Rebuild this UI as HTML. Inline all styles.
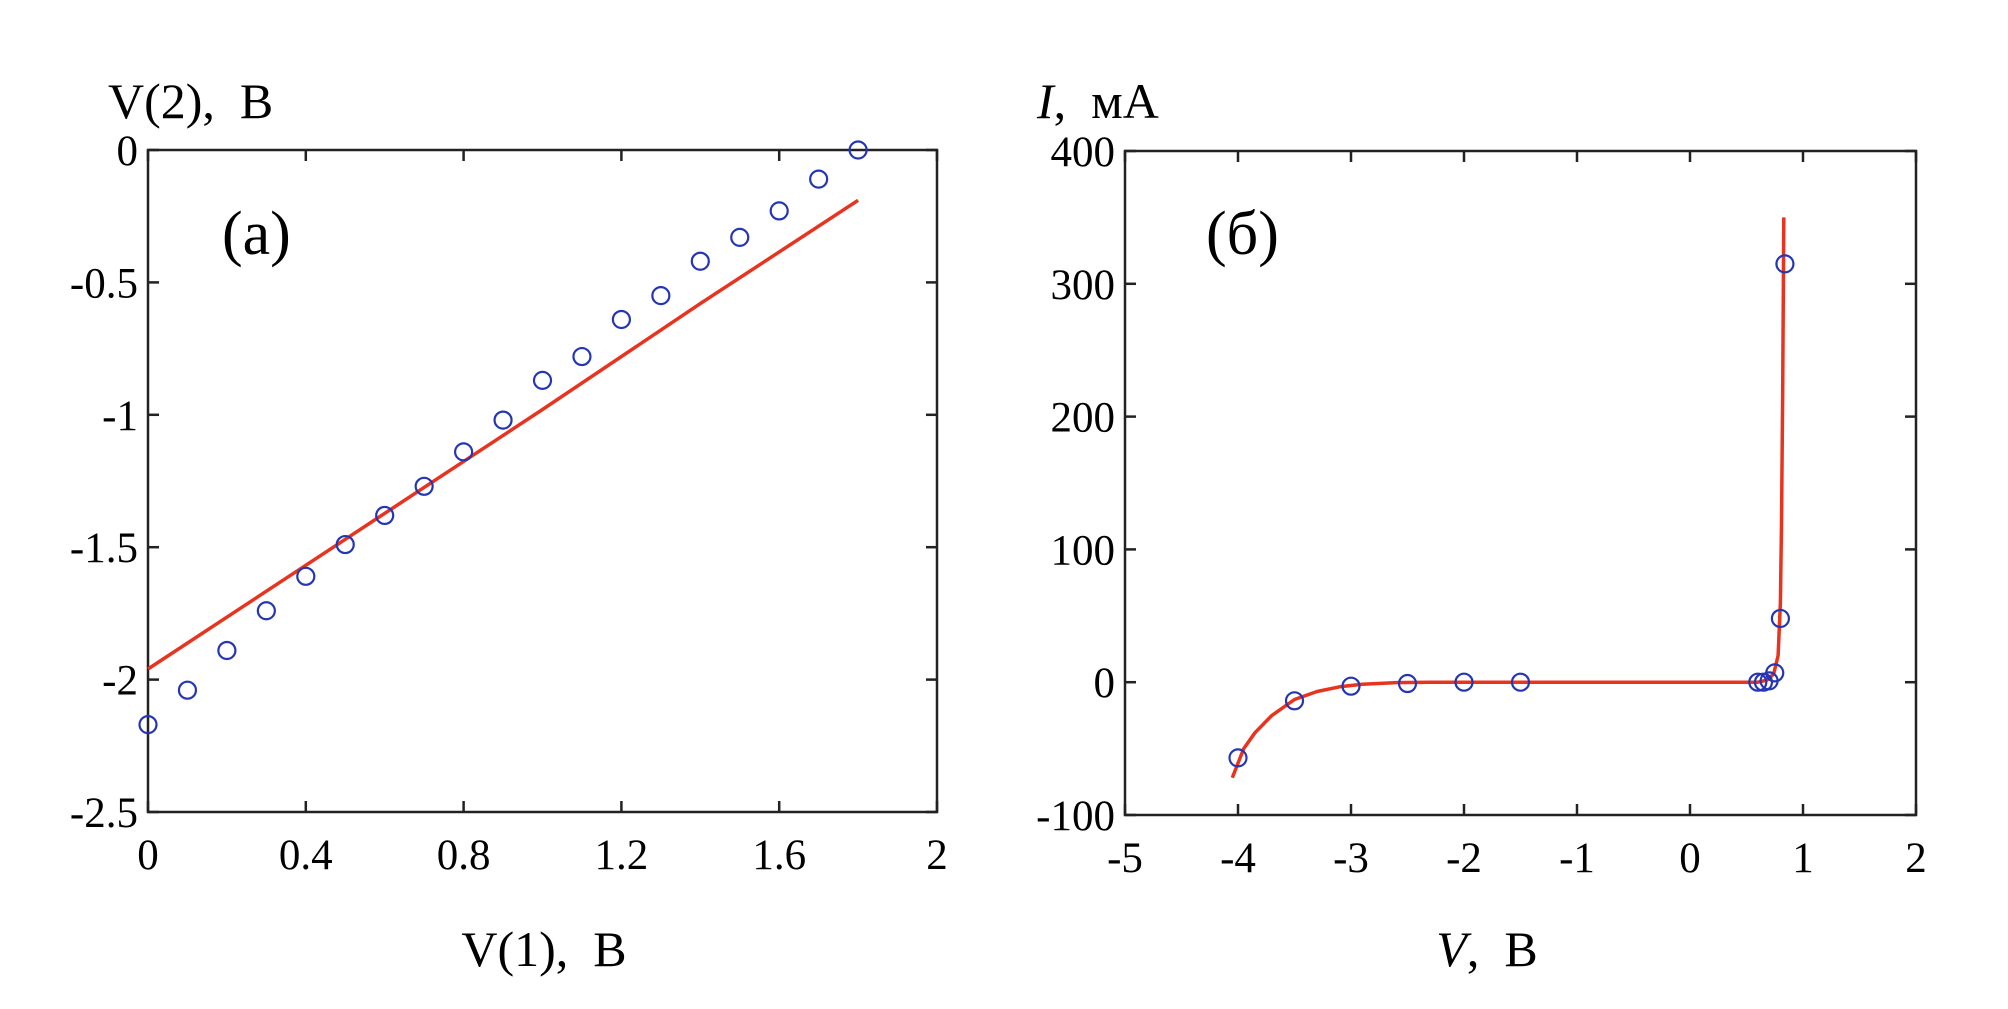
<!DOCTYPE html>
<html><head><meta charset="utf-8"><style>
body{margin:0;background:#fff}
svg text{font-family:"Liberation Serif",serif;fill:#000}
</style></head><body>
<svg id="s" width="2008" height="1004" viewBox="0 0 2008 1004" xmlns="http://www.w3.org/2000/svg">
<text x="108" y="118" font-size="50">V(2),&#160;&#160;В</text>
<text x="544" y="966" font-size="50" text-anchor="middle">V(1),&#160;&#160;В</text>
<text x="222" y="254" font-size="62">(а)</text>
<text x="1037" y="118" font-size="50"><tspan font-style="italic">I</tspan>,&#160;&#160;мА</text>
<text x="1487" y="966" font-size="50" text-anchor="middle"><tspan font-style="italic">V</tspan>,&#160;&#160;В</text>
<text x="1206" y="254" font-size="62">(б)</text>
<g id="L"></g>
<g id="R"></g>
</svg>
<script>
const leftXTicks=[0,0.4,0.8,1.2,1.6,2];
const leftXTickLabels=["0","0.4","0.8","1.2","1.6","2"];
const leftYTicks=[0,-0.5,-1,-1.5,-2,-2.5];
const leftYTickLabels=["0","-0.5","-1","-1.5","-2","-2.5"];
const leftPointsX=[0,0.1,0.2,0.3,0.4,0.5,0.6,0.7,0.8,0.9,1.0,1.1,1.2,1.3,1.4,1.5,1.6,1.7,1.8];
const leftPointsY=[-2.17,-2.04,-1.89,-1.74,-1.61,-1.49,-1.38,-1.27,-1.14,-1.02,-0.87,-0.78,-0.64,-0.55,-0.42,-0.33,-0.23,-0.11,0.0];
const leftLineX=[0,0.5,1.0,1.4,1.8];
const leftLineY=[-1.96,-1.47,-0.98,-0.58,-0.19];

const rightXTicks=[-5,-4,-3,-2,-1,0,1,2];
const rightXTickLabels=["-5","-4","-3","-2","-1","0","1","2"];
const rightYTicks=[-100,0,100,200,300,400];
const rightYTickLabels=["-100","0","100","200","300","400"];
const rightPointsX=[-4,-3.5,-3,-2.5,-2,-1.5,0.6,0.65,0.7,0.75,0.8,0.84];
const rightPointsY=[-57,-14,-3,-1,0,0,0,0,1,7,48,315];
const rightLineX=[-4.05,-3.95,-3.85,-3.7,-3.5,-3.3,-3.1,-2.9,-2.6,-2.3,0,0.6,0.68,0.74,0.78,0.8,0.81,0.82,0.83];
const rightLineY=[-72,-50,-38,-25,-13,-7,-3.5,-1.5,-0.3,0,0,0,1.5,6,20,60,120,220,350];

const NS="http://www.w3.org/2000/svg";
function mk(p,t,a){const e=document.createElementNS(NS,t);for(const k in a)e.setAttribute(k,a[k]);p.appendChild(e);return e;}
function panel(g,box,xd,yd,xt,xl,yt,yl,px,py,lx,ly,pre){
  const sx=v=>box.x0+(v-xd[0])/(xd[1]-xd[0])*(box.x1-box.x0);
  const sy=v=>box.y1-(v-yd[0])/(yd[1]-yd[0])*(box.y1-box.y0);
  const fr=mk(g,'rect',{x:box.x0,y:box.y0,width:box.x1-box.x0,height:box.y1-box.y0,fill:'none',stroke:'#222','stroke-width':2.5});
  
  
  xt.forEach((v,i)=>{const x=sx(v);
    mk(g,'line',{x1:x,x2:x,y1:box.y1,y2:box.y1-11,stroke:'#222','stroke-width':2.5});
    mk(g,'line',{x1:x,x2:x,y1:box.y0,y2:box.y0+11,stroke:'#222','stroke-width':2.5});
    const t=mk(g,'text',{x:x,y:box.y1+57,'font-size':43,'text-anchor':'middle'});t.textContent=xl[i];
    
    });
  yt.forEach((v,i)=>{const y=sy(v);
    mk(g,'line',{x1:box.x0,x2:box.x0+11,y1:y,y2:y,stroke:'#222','stroke-width':2.5});
    mk(g,'line',{x1:box.x1,x2:box.x1-11,y1:y,y2:y,stroke:'#222','stroke-width':2.5});
    const t=mk(g,'text',{x:box.x0-10,y:y+15,'font-size':43,'text-anchor':'end'});t.textContent=yl[i];
    
    });
  const d=lx.map((v,i)=>(i?'L':'M')+sx(v).toFixed(1)+' '+sy(ly[i]).toFixed(1)).join(' ');
  const p=mk(g,'path',{d:d,fill:'none',stroke:'#e8341f','stroke-width':3.5,'stroke-linejoin':'round'});
  
  
  px.forEach((v,i)=>{const c=mk(g,'circle',{cx:sx(v),cy:sy(py[i]),r:8.5,fill:'none',stroke:'#2436b4','stroke-width':2.2});
    
    });
}
panel(document.getElementById('L'),{x0:148,x1:937,y0:150,y1:812},[0,2],[-2.5,0],leftXTicks,leftXTickLabels,leftYTicks,leftYTickLabels,leftPointsX,leftPointsY,leftLineX,leftLineY,'left');
panel(document.getElementById('R'),{x0:1125,x1:1916,y0:151,y1:815},[-5,2],[-100,400],rightXTicks,rightXTickLabels,rightYTicks,rightYTickLabels,rightPointsX,rightPointsY,rightLineX,rightLineY,'right');
</script>
</body></html>
